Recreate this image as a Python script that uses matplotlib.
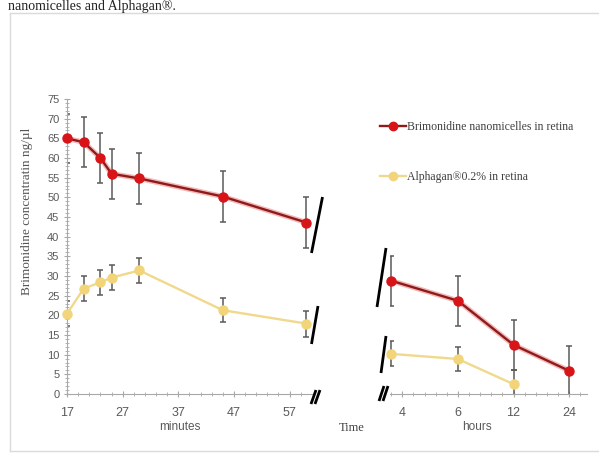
import numpy as np
import matplotlib
matplotlib.use("Agg")
import matplotlib.pyplot as plt
from matplotlib.lines import Line2D
from matplotlib.ticker import MultipleLocator, FixedLocator
import matplotlib.patheffects as pe

# data, minutes part
min_times = [17, 20, 23, 25, 30, 45, 60]
nano_min = [65.0, 64.0, 60.0, 56.0, 54.8, 50.2, 43.6]
nano_min_err = [6.3, 6.3, 6.3, 6.3, 6.4, 6.4, 6.4]
alph_min = [20.4, 26.8, 28.4, 29.6, 31.4, 21.3, 17.9]
alph_min_err = [3.2, 3.2, 3.2, 3.2, 3.2, 3.1, 3.3]

# data, hours part (plotted on an even category scale)
hour_pos = [0.8, 2, 3, 4]
hour_ticks = [1, 2, 3, 4]
hour_labels = ["4", "6", "12", "24"]
nano_hr = [28.8, 23.7, 12.5, 5.9]
nano_hr_err = [6.4, 6.4, 6.4, 6.3]
alph_hr = [10.2, 8.9, 2.5]
alph_hr_err = [3.2, 3.1, 3.7]

min_ticks = [17, 27, 37, 47, 57]
nano_label = "Brimonidine nanomicelles in retina"
alph_label = "Alphagan\u00ae0.2% in retina"

# style
W, H = 599, 453
red_line = "#8e1b1b"
red_mk = "#d81418"
yel_line = "#f0d98c"
yel_mk = "#f2d57a"
err_col = "#5a5a5a"
axis_col = "#a8a8a8"
tick_txt = "#595959"
serif = ["Liberation Serif", "DejaVu Serif"]
narrow = ["Liberation Sans Narrow", "Liberation Sans", "DejaVu Sans"]


def fx(x):
    return x / W


def fy(y):
    return 1 - y / H


fig = plt.figure(figsize=(W / 100, H / 100), dpi=100)

# y scale shared: 0 at px 394, 75 at px 99
ax1 = fig.add_axes([fx(67), fy(394), (313 - 67) / W, 295 / H])
ax2 = fig.add_axes([fx(390.1), fy(394), 196.8 / W, 295 / H])
ax1.set_xlim(17, 61.2)
ax2.set_xlim(0.78, 4.32)
for ax in (ax1, ax2):
    ax.set_ylim(0, 75)
    ax.patch.set_alpha(0)
    for s in ("top", "right"):
        ax.spines[s].set_visible(False)
    ax.spines["bottom"].set_color(axis_col)
    ax.spines["left"].set_color(axis_col)
    ax.tick_params(which="both", color=axis_col, labelcolor=tick_txt, direction="inout")
    ax.tick_params(which="major", length=5)
    ax.tick_params(which="minor", length=3)
    ax.tick_params(axis="x", pad=7)

ax1.yaxis.set_major_locator(MultipleLocator(5))
ax1.yaxis.set_minor_locator(MultipleLocator(1))
ax1.tick_params(axis="y", labelsize=8, pad=3)
ax1.xaxis.set_major_locator(FixedLocator(min_ticks))
ax1.xaxis.set_minor_locator(FixedLocator(np.arange(17, 61, 2)))
ax1.tick_params(axis="x", labelsize=9)
for lab in ax1.get_yticklabels() + ax1.get_xticklabels():
    lab.set_family(narrow)

ax2.spines["left"].set_visible(False)
ax2.yaxis.set_visible(False)
ax2.xaxis.set_major_locator(FixedLocator(hour_ticks))
ax2.xaxis.set_minor_locator(FixedLocator(np.arange(0.8, 4.3, 0.2)))
ax2.set_xticklabels(hour_labels)
ax2.tick_params(axis="x", labelsize=9)
for lab in ax2.get_xticklabels():
    lab.set_family(narrow)

glow = [pe.Stroke(linewidth=3.8, foreground="#f5b8b8"), pe.Normal()]


def draw(ax, x, y, e, lc, mc, fx_=None):
    ax.errorbar(x, y, yerr=e, fmt="none", ecolor=err_col, elinewidth=1.1,
                capsize=2.5, capthick=1.1, zorder=2)
    ax.plot(x, y, color=lc, lw=1.7, zorder=3, clip_on=False, path_effects=fx_)
    ax.plot(x, y, ls="none", marker="o", ms=6.5, mfc=mc, mec=mc, zorder=4,
            clip_on=False)


draw(ax1, min_times, nano_min, nano_min_err, red_line, red_mk, glow)
draw(ax1, min_times, alph_min, alph_min_err, yel_line, yel_mk)
draw(ax2, hour_pos, nano_hr, nano_hr_err, red_line, red_mk, glow)
draw(ax2, hour_pos[:len(alph_hr)], alph_hr, alph_hr_err, yel_line, yel_mk)

# legend
leg_nano = Line2D([], [], color=red_line, lw=1.7, marker="o", ms=6, mfc=red_mk, mec=red_mk)
leg_alph = Line2D([], [], color=yel_line, lw=1.7, marker="o", ms=6, mfc=yel_mk, mec=yel_mk)
fig.legend([leg_nano, leg_alph], [nano_label, alph_label], loc="upper left",
           bbox_to_anchor=(fx(380), fy(121)), frameon=False, borderpad=0,
           borderaxespad=0, handlelength=2.2, handletextpad=0.1, labelspacing=3.2,
           prop={"family": serif, "size": 8.5}, labelcolor="#404040")

# axis titles
fig.text(fx(27), fy(211), "Brimonidine concentratin ng/\u00b5l", rotation=90,
         ha="center", va="center", family=serif, fontsize=9.5, color="#555555")
fig.text(fx(180), fy(427), "minutes", ha="center", va="center", family=narrow,
         fontsize=8.5, color=tick_txt)
fig.text(fx(477), fy(427), "hours", ha="center", va="center", family=narrow,
         fontsize=8.5, color=tick_txt)
fig.text(fx(352), fy(428), "Time", ha="center", va="center", family=serif,
         fontsize=9, color="#404040")

# axis break marks
breaks = [
    [(322.5, 197), (311.5, 253)],
    [(318, 306), (311.5, 344)],
    [(386, 248), (377, 307)],
    [(386, 336), (381, 373)],
    [(316, 390), (311, 404)],
    [(320, 390), (315, 404)],
    [(384, 386), (379, 401)],
    [(388, 386), (383, 401)],
]
for (x0, y0), (x1, y1) in breaks:
    fig.add_artist(Line2D([fx(x0), fx(x1)], [fy(y0), fy(y1)], color="black", lw=2.0,
                          solid_capstyle="butt"))

# light frame of the figure
frame = "#dadada"
fig.add_artist(Line2D([fx(10), fx(10)], [fy(13), fy(451)], color=frame, lw=1))
fig.add_artist(Line2D([fx(10), 1], [fy(13), fy(13)], color=frame, lw=1))
fig.add_artist(Line2D([fx(10), 1], [fy(451), fy(451)], color=frame, lw=1))

# caption line above the frame
fig.text(fx(8), fy(10), "nanomicelles and Alphagan\u00ae.", ha="left", va="baseline",
         family=serif, fontsize=10, color="#222222")

plt.savefig("out.png", dpi=100)
